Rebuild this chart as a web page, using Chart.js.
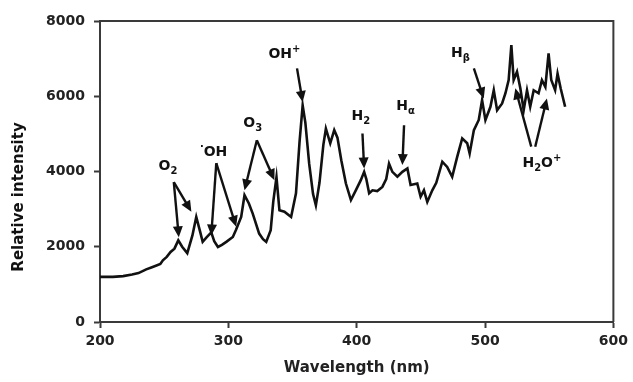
<!DOCTYPE html>
<html>
<head>
<meta charset="utf-8">
<script src="https://cdn.jsdelivr.net/npm/chart.js@4.4.1/dist/chart.umd.min.js"></script>
<style>
  html, body { margin: 0; background: #fff; }
  #wrap { width: 633px; height: 382px; }
</style>
</head>
<body>
<div id="wrap"><canvas id="c"></canvas></div>
<script>
// spectrum (nm, relative intensity)
const wavelength = [
  200, 210, 218, 225, 230, 236, 240, 244, 247, 249, 252, 255, 258, 261, 264, 268,
  272, 275, 278, 280, 283, 286.7, 289, 291.9, 295, 298.4, 303.5, 306, 310, 312.6,
  316, 319, 324, 327, 329.5, 333, 335, 337.5, 339.8, 343.7, 348.9, 352.7, 355.5,
  357.9, 360, 363, 366, 368.2, 371, 374, 376, 379.4, 382.5, 385, 388, 391.6, 395.5,
  399.3, 403.2, 405.8, 407.5, 409.7, 412.3, 416, 420, 423, 425.2, 427.8, 431.7,
  435.6, 439.5, 442, 447.2, 449.8, 452.4, 455, 458.9, 462, 464.1, 466.7, 470.5,
  474.4, 478.3, 482.2, 486.1, 488, 491.3, 495.1, 497.7, 500.3, 504.2, 506.8, 509.4,
  513.3, 515.9, 518.4, 520.5, 522.3, 524.9, 527.5, 530.1, 532.7, 535.2, 537.9,
  541.7, 544.3, 547, 549.5, 551.6, 554.6, 556.5, 559, 562.4
];
const intensity = [
  1200, 1200, 1220, 1260, 1300, 1400, 1450, 1500, 1540, 1640, 1730, 1860, 1950, 2170, 2000, 1830,
  2300, 2790, 2400, 2130, 2250, 2380, 2150, 1995, 2050, 2130, 2260, 2450, 2790, 3370,
  3150, 2880, 2350, 2200, 2130, 2440, 3200, 3850, 2970, 2930, 2790, 3420, 4800,
  5760, 5300, 4200, 3400, 3100, 3700, 4700, 5140, 4750, 5100, 4900, 4300, 3680, 3240,
  3500, 3770, 3990, 3800, 3420, 3500, 3480, 3590, 3800, 4210, 3990, 3860,
  3990, 4080, 3640, 3680, 3330, 3500, 3190, 3500, 3700, 3950, 4260, 4120,
  3860, 4390, 4880, 4750, 4480, 5100, 5370, 5900, 5370, 5720, 6160, 5630,
  5810, 6080, 6430, 7360, 6430, 6650, 6210, 5630, 6160, 5720, 6160,
  6080, 6430, 6250, 7140, 6430, 6160, 6600, 6200, 5720
];

const xTicks = [200, 300, 400, 500, 600];
const yTicks = [0, 2000, 4000, 6000, 8000];

// species labels: text parts (sub / sup) and their centre in data units
const labelParts = [
  [["O"], ["2", "sub"]],
  [["\u00B7", "sup"], ["OH"]],
  [["O"], ["3", "sub"]],
  [["OH"], ["+", "sup"]],
  [["H"], ["2", "sub"]],
  [["H"], ["\u03B1", "sub"]],
  [["H"], ["\u03B2", "sub"]],
  [["H"], ["2", "sub"], ["O"], ["+", "sup"]],
];
const labelX = [253, 288.5, 319, 343.7, 403.2, 438.1, 480.9, 544.3];
const labelY = [4170, 4540, 5320, 7160, 5500, 5760, 7180, 4260];

// arrows: tail -> head, data units
const arrowFromX = [257.5, 257.5, 290.6, 290.6, 322.2, 322.2, 353.5, 404.5, 436.9, 491.3, 536, 539.1];
const arrowFromY = [3720, 3720, 4220, 4220, 4830, 4830, 6740, 5010, 5230, 6740, 4660, 4660];
const arrowToX   = [261.4, 271.2, 286.7, 306.1, 312.6, 335.9, 357.9, 405.8, 435.6, 499, 523.6, 548.2];
const arrowToY   = [2250, 2930, 2300, 2530, 3500, 3770, 5850, 4080, 4170, 5940, 6210, 5940];

const FONT = "'DejaVu Sans', sans-serif";
const INK = "#111";
const AXIS = "#3a3a3a";

function drawArrow(ctx, x1, y1, x2, y2) {
  const a = Math.atan2(y2 - y1, x2 - x1);
  const L = 11, W = 5;
  const c = Math.cos(a), s = Math.sin(a);
  ctx.beginPath();
  ctx.moveTo(x1, y1);
  ctx.lineTo(x2 - c * L * 0.7, y2 - s * L * 0.7);
  ctx.stroke();
  ctx.beginPath();
  ctx.moveTo(x2, y2);
  ctx.lineTo(x2 - c * L + s * W, y2 - s * L - c * W);
  ctx.lineTo(x2 - c * L - s * W, y2 - s * L + c * W);
  ctx.closePath();
  ctx.fill();
}

function drawLabel(ctx, parts, cx, cy) {
  const big = "bold 14px " + FONT, small = "bold 10px " + FONT;
  let w = 0;
  for (const p of parts) { ctx.font = p[1] ? small : big; w += ctx.measureText(p[0]).width; }
  let x = cx - w / 2;
  const base = cy + 5;
  ctx.textAlign = "left";
  ctx.textBaseline = "alphabetic";
  for (const p of parts) {
    ctx.font = p[1] ? small : big;
    const dy = p[1] === "sub" ? 4 : p[1] === "sup" ? -6 : 0;
    ctx.fillText(p[0], x, base + dy);
    x += ctx.measureText(p[0]).width;
  }
}

const annotate = {
  id: "annotate",
  afterDatasetsDraw(chart) {
    const { ctx, chartArea: a, scales: { x, y } } = chart;
    ctx.save();
    // closing box (top + right)
    ctx.strokeStyle = AXIS;
    ctx.lineWidth = 2;
    ctx.beginPath();
    ctx.moveTo(a.left, a.top);
    ctx.lineTo(a.right, a.top);
    ctx.lineTo(a.right, a.bottom);
    ctx.stroke();

    ctx.strokeStyle = INK;
    ctx.fillStyle = INK;
    ctx.lineWidth = 2.4;
    for (let i = 0; i < arrowFromX.length; i++) {
      drawArrow(ctx,
        x.getPixelForValue(arrowFromX[i]), y.getPixelForValue(arrowFromY[i]),
        x.getPixelForValue(arrowToX[i]), y.getPixelForValue(arrowToY[i]));
    }
    for (let i = 0; i < labelParts.length; i++) {
      drawLabel(ctx, labelParts[i], x.getPixelForValue(labelX[i]), y.getPixelForValue(labelY[i]));
    }

    // y title, drawn by hand to sit where the original does
    ctx.font = "bold 15px " + FONT;
    ctx.textAlign = "center";
    ctx.textBaseline = "middle";
    ctx.translate(19, 197);
    ctx.rotate(-Math.PI / 2);
    ctx.fillText("Relative intensity", 0, 0);
    ctx.restore();
  },
};

new Chart(document.getElementById("c"), {
  type: "line",
  data: {
    datasets: [{
      data: wavelength.map((w, i) => ({ x: w, y: intensity[i] })),
      borderColor: INK,
      borderWidth: 2.6,
      pointRadius: 0,
      tension: 0,
      fill: false,
    }],
  },
  options: {
    responsive: true,
    maintainAspectRatio: false,
    animation: false,
    layout: { padding: { left: 0, right: 18, top: 21, bottom: 0 } },
    plugins: { legend: { display: false }, tooltip: { enabled: false } },
    scales: {
      x: {
        type: "linear",
        min: 200, max: 600,
        afterBuildTicks: (s) => { s.ticks = xTicks.map((v) => ({ value: v })); },
        afterFit: (s) => { s.height = 60; },
        border: { display: true, color: AXIS, width: 2 },
        grid: { drawOnChartArea: false, drawTicks: true, tickLength: 6, tickColor: AXIS, tickWidth: 2 },
        ticks: { padding: 5, color: "#222", font: { family: FONT, size: 14, weight: "bold" }, callback: (v) => String(v) },
        title: { display: true, text: "Wavelength (nm)", color: "#222", font: { family: FONT, size: 15, weight: "bold" }, padding: { top: 0, bottom: 5 } },
      },
      y: {
        min: 0, max: 8000,
        afterBuildTicks: (s) => { s.ticks = yTicks.map((v) => ({ value: v })); },
        afterFit: (s) => { s.width = 100; },
        border: { display: true, color: AXIS, width: 2 },
        grid: { drawOnChartArea: false, drawTicks: true, tickLength: 6, tickColor: AXIS, tickWidth: 2 },
        ticks: { padding: 9, color: "#222", font: { family: FONT, size: 14, weight: "bold" }, callback: (v) => String(v) },
      },
    },
  },
  plugins: [annotate],
});
</script>
</body>
</html>
